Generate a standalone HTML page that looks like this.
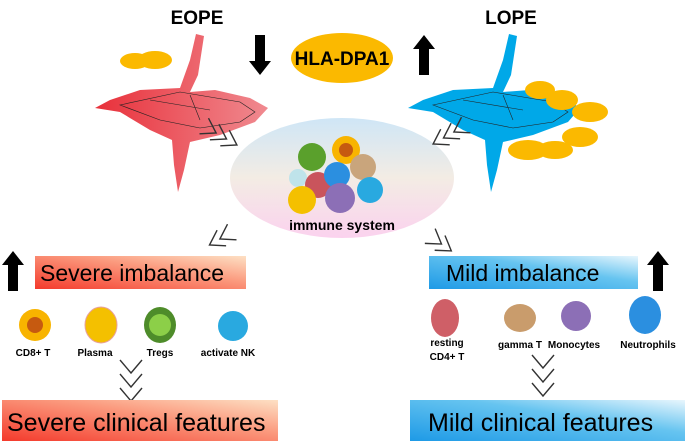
<!DOCTYPE html>
<html><head><meta charset="utf-8"><style>
html,body{margin:0;padding:0;background:#fff;width:685px;height:441px;overflow:hidden}
svg{display:block;font-family:"Liberation Sans",Arial,sans-serif}
</style></head><body>
<svg width="685" height="441" viewBox="0 0 685 441" xmlns="http://www.w3.org/2000/svg">
<defs>
<linearGradient id="red" x1="0" x2="1"><stop offset="0" stop-color="#e8303a"/><stop offset="1" stop-color="#f08a90"/></linearGradient>
<linearGradient id="sev" x1="0" y1="1" x2="1" y2="0"><stop offset="0" stop-color="#f43a2c"/><stop offset="0.6" stop-color="#fb9a7e"/><stop offset="1" stop-color="#fde0c4"/></linearGradient>
<linearGradient id="mild" x1="0" y1="1" x2="1" y2="0"><stop offset="0" stop-color="#1e9ae6"/><stop offset="0.6" stop-color="#66c4f0"/><stop offset="1" stop-color="#e8f6fd"/></linearGradient>
<linearGradient id="imm" x1="0" y1="0" x2="0" y2="1"><stop offset="0" stop-color="#cfe6f6"/><stop offset="0.5" stop-color="#f3ece4"/><stop offset="1" stop-color="#fbd2ee"/></linearGradient>
<g id="upar"><polygon points="0,-20 11,-6 5,-6 5,20 -5,20 -5,-6 -11,-6" fill="#000"/></g>
<g id="chev" fill="none" stroke="#333" stroke-width="1.4"><polyline points="0,-9 14,0 0,9"/></g>
<g id="dchev" fill="none" stroke="#333" stroke-width="1.4"><polyline points="-11,0 0,13 11,0"/></g>
</defs>
<text x="197" y="24" font-size="19" font-weight="bold" text-anchor="middle">EOPE</text>
<text x="511" y="24" font-size="19" font-weight="bold" text-anchor="middle">LOPE</text>
<ellipse cx="342" cy="58" rx="51" ry="25" fill="#fbb900"/>
<text x="342" y="65" font-size="19" font-weight="bold" text-anchor="middle">HLA-DPA1</text>
<use href="#upar" transform="translate(260,55) rotate(180)"/>
<use href="#upar" transform="translate(424,55)"/>
<!-- red placenta -->
<ellipse cx="135" cy="61" rx="15" ry="8" fill="#fbb900"/><ellipse cx="155" cy="60" rx="17" ry="9" fill="#fbb900"/>
<path d="M196,34 L204,36 L198,75 L190,92 L215,90 L250,98 L268,108 L255,122 L220,135 L190,142 L184,170 L178,192 L174,165 L172,140 L150,130 L120,112 L95,108 L110,100 L140,90 L180,88 L190,60 Z" fill="url(#red)"/>
<path d="M120,105 L180,92 L240,102 L255,112 L240,122 L200,128 L160,120 Z M190,95 L200,120 M150,100 L210,110" fill="none" stroke="#222" stroke-width="0.6"/>
<!-- blue placenta -->
<path d="M509,34 L517,36 L511,75 L503,92 L530,90 L565,98 L580,108 L568,122 L533,135 L503,142 L497,170 L491,192 L487,165 L485,140 L463,130 L433,112 L408,108 L423,100 L453,90 L493,88 L503,60 Z" fill="#00a8e8"/>
<path d="M433,105 L493,92 L553,102 L568,112 L553,122 L513,128 L473,120 Z M503,95 L513,120 M463,100 L523,110" fill="none" stroke="#222" stroke-width="0.6"/>
<g fill="#fbb900"><ellipse cx="540" cy="90" rx="15" ry="9"/><ellipse cx="562" cy="100" rx="16" ry="10"/><ellipse cx="590" cy="112" rx="18" ry="10"/><ellipse cx="580" cy="137" rx="18" ry="10"/><ellipse cx="528" cy="150" rx="20" ry="10"/><ellipse cx="555" cy="150" rx="18" ry="9"/></g>
<!-- immune ellipse -->
<ellipse cx="342" cy="178" rx="112" ry="60" fill="url(#imm)"/>
<g><circle cx="312" cy="157" r="14" fill="#5aa02c"/><circle cx="346" cy="150" r="14" fill="#f8b400"/><circle cx="346" cy="150" r="7" fill="#c65a10"/><circle cx="363" cy="167" r="13" fill="#c9a57c"/><circle cx="298" cy="178" r="9" fill="#bfe3ea"/><circle cx="318" cy="185" r="13" fill="#c9545c"/><circle cx="337" cy="175" r="13" fill="#2b8fe0"/><circle cx="370" cy="190" r="13" fill="#29a9e0"/><circle cx="302" cy="200" r="14" fill="#f4c000"/><circle cx="340" cy="198" r="15" fill="#8c6fb6"/></g>
<text x="342" y="230" font-size="14" font-weight="bold" text-anchor="middle">immune system</text>
<!-- chevrons -->
<g transform="translate(204,126) rotate(30)"><use href="#chev"/><use href="#chev" x="12"/><use href="#chev" x="24"/></g>
<g transform="translate(466,125) rotate(150)"><use href="#chev"/><use href="#chev" x="12"/><use href="#chev" x="24"/></g>
<g transform="translate(232,232) rotate(150)"><use href="#chev"/><use href="#chev" x="12"/></g>
<g transform="translate(430,236) rotate(35)"><use href="#chev"/><use href="#chev" x="12"/></g>
<!-- boxes -->
<rect x="35" y="256" width="211" height="33" fill="url(#sev)"/>
<text x="40" y="281" font-size="23">Severe imbalance</text>
<use href="#upar" transform="translate(13,271)"/>
<rect x="429" y="256" width="209" height="33" fill="url(#mild)"/>
<text x="446" y="281" font-size="23">Mild imbalance</text>
<use href="#upar" transform="translate(658,271)"/>
<!-- cells left -->
<circle cx="35" cy="325" r="16" fill="#f8b400"/><circle cx="35" cy="325" r="8" fill="#c65a10"/>
<ellipse cx="101" cy="325" rx="16" ry="18" fill="#f4c000" stroke="#e8a0a0"/>
<ellipse cx="160" cy="325" rx="16" ry="18" fill="#4e8c2a"/><circle cx="160" cy="325" r="11" fill="#8ccf48"/>
<circle cx="233" cy="326" r="15" fill="#29a9e0"/>
<g font-size="10" font-weight="bold" text-anchor="middle">
<text x="33" y="356">CD8+ T</text><text x="95" y="356">Plasma</text><text x="160" y="356">Tregs</text><text x="228" y="356">activate NK</text>
<text x="447" y="346">resting</text><text x="447" y="360">CD4+ T</text><text x="520" y="348">gamma T</text><text x="574" y="348">Monocytes</text><text x="648" y="348">Neutrophils</text>
</g>
<ellipse cx="445" cy="318" rx="14" ry="19" fill="#cf5f67"/>
<ellipse cx="520" cy="318" rx="16" ry="14" fill="#c99c6c"/>
<circle cx="576" cy="316" r="15" fill="#8c6fb6"/>
<ellipse cx="645" cy="315" rx="16" ry="19" fill="#2b8fe0"/>
<!-- down chevrons -->
<g transform="translate(131,360)"><use href="#dchev"/><use href="#dchev" y="14"/><use href="#dchev" y="28"/></g>
<g transform="translate(543,355)"><use href="#dchev"/><use href="#dchev" y="14"/><use href="#dchev" y="28"/></g>
<rect x="2" y="400" width="276" height="41" fill="url(#sev)"/>
<text x="7" y="431" font-size="25">Severe clinical features</text>
<rect x="410" y="400" width="275" height="41" fill="url(#mild)"/>
<text x="428" y="431" font-size="25">Mild clinical features</text>
</svg>
</body></html>
